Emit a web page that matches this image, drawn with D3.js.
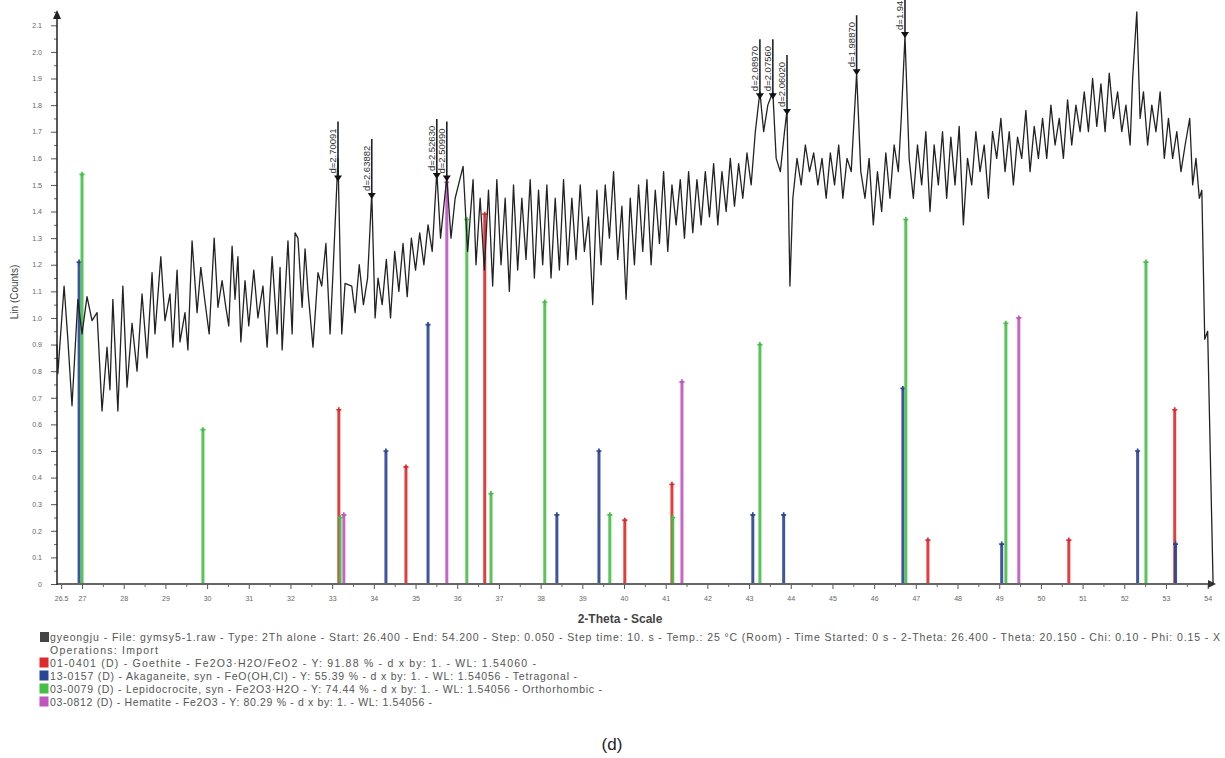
<!DOCTYPE html>
<html><head><meta charset="utf-8">
<script src="https://cdn.jsdelivr.net/npm/d3@7/dist/d3.min.js"></script>
<style>
body{margin:0;background:#fff}
svg{display:block}
text{font-family:"Liberation Sans",Arial,sans-serif}
</style>
</head><body>
<svg id="chart" width="1225" height="758"></svg>
<script>
// ---- scan: [2-Theta, Lin (Counts)] ----
const scanPoints = [
[26.40,0.90],[26.42,0.79],[26.57,1.12],[26.66,0.92],[26.76,0.67],[26.90,1.07],[27.00,0.94],[27.12,1.08],[27.24,0.99],[27.36,1.02],[27.48,0.65],[27.60,0.89],[27.67,0.73],[27.74,1.07],[27.86,0.65],[27.98,1.12],[28.08,0.74],[28.20,0.98],[28.32,0.80],[28.44,1.09],[28.56,0.85],[28.68,1.17],[28.75,0.94],[28.89,1.23],[28.99,0.99],[29.11,1.09],[29.18,0.89],[29.28,1.18],[29.35,0.91],[29.47,1.02],[29.54,0.88],[29.64,1.29],[29.76,1.02],[29.85,1.19],[29.95,1.06],[30.05,0.94],[30.17,1.30],[30.26,1.04],[30.36,1.14],[30.45,1.04],[30.52,0.97],[30.60,1.27],[30.67,1.07],[30.74,1.23],[30.81,0.91],[30.91,1.14],[31.00,0.97],[31.12,1.18],[31.22,1.00],[31.34,1.12],[31.44,0.89],[31.56,1.23],[31.68,0.94],[31.75,1.19],[31.80,0.88],[31.94,1.29],[32.04,0.94],[32.11,1.32],[32.18,1.30],[32.28,1.04],[32.35,1.26],[32.42,1.10],[32.54,0.89],[32.66,1.17],[32.75,1.12],[32.85,1.28],[32.95,0.94],[33.02,1.17],[33.14,1.60],[33.23,0.94],[33.31,1.13],[33.47,1.12],
[33.55,1.02],[33.65,1.20],[33.75,1.05],[33.85,1.15],[33.95,1.47],[34.03,1.00],[34.10,1.15],[34.20,1.05],[34.30,1.22],[34.40,1.00],[34.50,1.25],[34.60,1.10],[34.70,1.28],[34.80,1.08],[34.90,1.30],[35.00,1.18],[35.10,1.32],[35.20,1.20],[35.30,1.35],[35.40,1.25],[35.51,1.55],[35.60,1.30],[35.75,1.53],[35.85,1.30],[35.95,1.45],
[36.14,1.57],[36.25,1.25],[36.38,1.52],[36.45,1.20],[36.55,1.45],[36.65,1.18],[36.75,1.48],[36.85,1.12],[36.95,1.52],[37.05,1.20],[37.15,1.45],[37.25,1.10],[37.35,1.50],[37.45,1.18],[37.55,1.45],[37.65,1.22],[37.75,1.52],[37.85,1.15],[37.95,1.48],[38.05,1.20],[38.15,1.50],[38.25,1.15],[38.35,1.45],[38.45,1.18],[38.55,1.52],[38.65,1.20],[38.75,1.45],[38.85,1.22],[38.95,1.50],[39.05,1.25],[39.15,1.38],[39.25,1.05],[39.35,1.48],[39.45,1.20],[39.55,1.50],[39.65,1.30],[39.75,1.55],[39.85,1.22],[39.95,1.42],[40.05,1.07],[40.15,1.45],[40.25,1.20],[40.35,1.50],[40.45,1.25],[40.55,1.52],[40.65,1.20],[40.75,1.48],[40.85,1.28],[40.95,1.55],[41.05,1.25],[41.15,1.50],[41.25,1.35],[41.35,1.52],[41.45,1.30],[41.55,1.55],[41.65,1.32],[41.75,1.52],[41.85,1.35],[41.95,1.55],[42.05,1.38],[42.15,1.58],[42.25,1.35],[42.35,1.55],[42.45,1.40],[42.55,1.60],[42.65,1.42],[42.75,1.58],[42.85,1.45],[42.95,1.62],[43.05,1.50],[43.15,1.70],
[43.26,1.85],[43.35,1.70],[43.45,1.80],[43.57,1.85],[43.65,1.60],[43.75,1.55],[43.85,1.70],[43.91,1.78],[43.98,1.12],[44.05,1.45],[44.15,1.60],[44.25,1.50],[44.35,1.65],[44.45,1.55],[44.55,1.62],[44.65,1.50],[44.75,1.60],[44.85,1.45],[44.95,1.62],[45.05,1.50],[45.15,1.65],[45.25,1.45],[45.35,1.60],[45.45,1.55],[45.58,1.92],[45.68,1.55],[45.78,1.45],[45.88,1.60],[45.98,1.35],[46.08,1.55],[46.18,1.40],[46.28,1.62],[46.38,1.45],[46.48,1.65],[46.58,1.55],[46.65,1.75],[46.74,2.06],[46.84,1.60],[46.94,1.45],[47.04,1.65],[47.14,1.50],[47.24,1.70],[47.34,1.40],[47.44,1.65],[47.54,1.50],[47.64,1.70],[47.74,1.45],[47.84,1.68],[47.94,1.50],[48.04,1.72],[48.14,1.35],[48.24,1.60],[48.34,1.50],[48.44,1.70],[48.54,1.55],[48.64,1.65],[48.74,1.45],[48.84,1.70],[48.94,1.60],[49.04,1.75],[49.14,1.55],[49.24,1.70],[49.34,1.50],[49.44,1.68],[49.54,1.60],[49.64,1.78],[49.74,1.55],[49.84,1.72],[49.94,1.60],[50.04,1.75],[50.14,1.60],[50.24,1.80],[50.34,1.65],[50.44,1.75],[50.54,1.60],[50.64,1.82],[50.74,1.65],[50.84,1.80],[50.94,1.70],[51.04,1.85],[51.14,1.70],[51.24,1.90],[51.34,1.72],[51.44,1.88],[51.54,1.70],[51.64,1.92],[51.74,1.75],[51.84,1.85],[51.94,1.70],[52.04,1.80],[52.14,1.65],[52.20,1.90],[52.30,2.15],[52.38,1.75],[52.46,1.85],[52.56,1.65],[52.66,1.80],[52.76,1.70],[52.86,1.85],[52.96,1.60],[53.06,1.75],[53.16,1.60],[53.26,1.70],[53.36,1.55],[53.46,1.65],[53.57,1.75],[53.64,1.50],[53.72,1.60],[53.80,1.45],[53.86,1.48],[53.93,0.92],[54.00,0.95],[54.13,0.00]
];

// ---- reference patterns (2-Theta, relative height on the Lin scale) ----
const goethiteAngles = [33.16,34.77,36.66,40.02,41.15,47.29,50.67,53.21];
const goethiteHeights = [0.655,0.44,1.39,0.24,0.375,0.165,0.165,0.655];
const akaganeiteAngles = [26.93,34.29,35.30,38.39,39.40,43.09,43.83,46.69,49.06,52.32,53.23];
const akaganeiteHeights = [1.21,0.50,0.975,0.26,0.50,0.26,0.26,0.735,0.15,0.50,0.15];
const lepidocrociteAngles = [27.00,29.90,33.19,36.23,36.81,38.10,39.66,41.17,43.26,46.76,49.16,52.52];
const lepidocrociteHeights = [1.54,0.58,0.25,1.37,0.34,1.06,0.26,0.25,0.90,1.37,0.98,1.21];
const hematiteAngles = [33.28,35.75,41.39,49.47];
const hematiteHeights = [0.26,1.51,0.76,1.00];

// ---- peak labels ----
const peakAngles = [33.14,33.95,35.51,35.75,43.26,43.57,43.91,45.58,46.74];
const peakHeights = [1.52,1.455,1.53,1.52,1.83,1.83,1.77,1.92,2.06];
const peakLabels = ["d=2.70091","d=2.63882","d=2.52630","d=2.50990","d=2.08970","d=2.07560","d=2.06020","d=1.98870","d=1.94"];

// ---- axes ----
const xTickValues = [26.5,27,28,29,30,31,32,33,34,35,36,37,38,39,40,41,42,43,44,45,46,47,48,49,50,51,52,53,54];
const xTickLabels = ["26.5","27","28","29","30","31","32","33","34","35","36","37","38","39","40","41","42","43","44","45","46","47","48","49","50","51","52","53","54"];
const yTickValues = [0,0.1,0.2,0.3,0.4,0.5,0.6,0.7,0.8,0.9,1.0,1.1,1.2,1.3,1.4,1.5,1.6,1.7,1.8,1.9,2.0,2.1];
const yTickLabels = ["0","0.1","0.2","0.3","0.4","0.5","0.6","0.7","0.8","0.9","1.0","1.1","1.2","1.3","1.4","1.5","1.6","1.7","1.8","1.9","2.0","2.1"];

const legendHeader = "gyeongju - File: gymsy5-1.raw - Type: 2Th alone - Start: 26.400 - End: 54.200 - Step: 0.050 - Step time: 10. s - Temp.: 25 °C (Room) - Time Started: 0 s - 2-Theta: 26.400 - Theta: 20.150 - Chi: 0.10 - Phi: 0.15 - X";
const legendOps = "Operations: Import";
const phaseNames = [
  "01-0401 (D) - Goethite - Fe2O3·H2O/FeO2 - Y: 91.88 % - d x by: 1. - WL: 1.54060 -",
  "13-0157 (D) - Akaganeite, syn - FeO(OH,Cl) - Y: 55.39 % - d x by: 1. - WL: 1.54056 - Tetragonal -",
  "03-0079 (D) - Lepidocrocite, syn - Fe2O3·H2O - Y: 74.44 % - d x by: 1. - WL: 1.54056 - Orthorhombic -",
  "03-0812 (D) - Hematite - Fe2O3 - Y: 80.29 % - d x by: 1. - WL: 1.54056 -"
];
const phaseColors = ["#e02a2a","#2a4496","#45bf45","#c055c0"];

// ================= drawing =================
const svg = d3.select("#chart");
svg.append("rect").attr("width",1225).attr("height",758).attr("fill","#fff");

const x = d3.scaleLinear().domain([26.4, 54.2]).range([57, 1216]);
const y = d3.scaleLinear().domain([0, 2.15]).range([584, 12]);

// y axis
const yAxis = d3.axisLeft(y).tickValues(yTickValues).tickSize(6).tickFormat((d,i)=>yTickLabels[i]);
const gy = svg.append("g").attr("transform","translate(57,0)").call(yAxis);
gy.select(".domain").remove();
gy.selectAll("line").attr("stroke","#555");
gy.selectAll("text").attr("font-size",7).attr("fill","#666").attr("dx",-6);
const yMinor = d3.axisLeft(y).tickValues(yTickValues.map(v=>v+0.05)).tickSize(3).tickFormat("");
const gy2 = svg.append("g").attr("transform","translate(57,0)").call(yMinor);
gy2.select(".domain").remove();
gy2.selectAll("line").attr("stroke","#666");

// x axis
const xAxis = d3.axisBottom(x).tickValues(xTickValues).tickSize(5).tickFormat((d,i)=>xTickLabels[i]);
const gx = svg.append("g").attr("transform","translate(0,584)").call(xAxis);
gx.select(".domain").remove();
gx.selectAll("line").attr("stroke","#555");
gx.selectAll("text").attr("font-size",7).attr("fill","#666").attr("dy",9);
const xMinor = d3.axisBottom(x).tickValues(xTickValues.slice(1,-1).map(v=>v+0.5)).tickSize(3).tickFormat("");
const gx2 = svg.append("g").attr("transform","translate(0,584)").call(xMinor);
gx2.select(".domain").remove();
gx2.selectAll("line").attr("stroke","#666");

// reference sticks
const phases = [
  {a:goethiteAngles,h:goethiteHeights},
  {a:akaganeiteAngles,h:akaganeiteHeights},
  {a:lepidocrociteAngles,h:lepidocrociteHeights},
  {a:hematiteAngles,h:hematiteHeights}
];
const stickG = svg.append("g");
phases.forEach((p,pi)=>{
  const data = p.a.map((a,i)=>({a, h:p.h[i]}));
  stickG.selectAll(null).data(data).enter().append("line")
    .attr("x1",d=>x(d.a)).attr("x2",d=>x(d.a))
    .attr("y1",y(0)).attr("y2",d=>y(d.h))
    .attr("stroke",phaseColors[pi]).attr("stroke-width",3).attr("opacity",0.9);
  stickG.selectAll(null).data(data).enter().append("path")
    .attr("d",d3.symbol(d3.symbolCross,14)())
    .attr("transform",d=>`translate(${x(d.a)},${y(d.h)})`)
    .attr("fill",phaseColors[pi]);
});

// axis lines
svg.append("line").attr("x1",57).attr("x2",1214).attr("y1",584).attr("y2",584).attr("stroke","#666").attr("stroke-width",2);
svg.append("path").attr("d","M1216,584 L1208,580 L1208,588 Z").attr("fill","#333");
svg.append("line").attr("x1",57).attr("x2",57).attr("y1",585).attr("y2",14).attr("stroke","#222").attr("stroke-width",1.5);
svg.append("path").attr("d","M57,10 L53,19 L61,19 Z").attr("fill","#222");

// scan line
svg.append("path").datum(scanPoints)
  .attr("d", d3.line().x(d=>x(d[0])).y(d=>y(d[1])))
  .attr("fill","none").attr("stroke","#222").attr("stroke-width",1.3).attr("stroke-linejoin","round");

// peak annotations
const pk = peakAngles.map((a,i)=>({a, v:peakHeights[i], t:peakLabels[i]}));
const pg = svg.append("g");
pg.selectAll(null).data(pk).enter().append("line")
  .attr("x1",d=>x(d.a)).attr("x2",d=>x(d.a))
  .attr("y1",d=>y(d.v)).attr("y2",d=>y(d.v)-58)
  .attr("stroke","#222").attr("stroke-width",1.6);
pg.selectAll(null).data(pk).enter().append("path")
  .attr("d",d=>{const cx=x(d.a), cy=y(d.v); return `M${cx-4},${cy-4} L${cx+4},${cy-4} L${cx},${cy+2} Z`;})
  .attr("fill","#111");
pg.selectAll(null).data(pk).enter().append("text")
  .attr("transform",d=>`translate(${x(d.a)-2},${y(d.v)-6}) rotate(-90)`)
  .attr("font-size",9.5).attr("fill","#333").text(d=>d.t);

// axis titles
svg.append("text").attr("x",620).attr("y",623).attr("text-anchor","middle")
  .attr("font-size",12).attr("font-weight","bold").attr("fill","#444").text("2-Theta - Scale");
svg.append("text").attr("transform","translate(18,292) rotate(-90)").attr("text-anchor","middle")
  .attr("font-size",10).attr("fill","#444").text("Lin (Counts)");

// legend
const lg = svg.append("g");
lg.append("rect").attr("x",40).attr("y",632).attr("width",9).attr("height",10).attr("fill","#444");
lg.append("text").attr("x",50).attr("y",641).attr("font-size",10.5).attr("fill","#555")
  .attr("textLength",1170).attr("lengthAdjust","spacing").text(legendHeader);
lg.append("text").attr("x",50).attr("y",654).attr("font-size",10.5).attr("fill","#555")
  .attr("textLength",108).attr("lengthAdjust","spacing").text(legendOps);
const rowsY = [667,680,693,706];
const rowsLen = [486,527,552,382];
phaseNames.forEach((t,i)=>{
  lg.append("rect").attr("x",40).attr("y",rowsY[i]-9).attr("width",8).attr("height",9)
    .attr("fill",phaseColors[i]).attr("stroke",phaseColors[i]);
  lg.append("text").attr("x",50).attr("y",rowsY[i]).attr("font-size",10.5).attr("fill","#555")
    .attr("textLength",rowsLen[i]).attr("lengthAdjust","spacing").text(t);
});

svg.append("text").attr("x",612).attr("y",750).attr("text-anchor","middle")
  .attr("font-size",17).attr("fill","#222").text("(d)");
</script>
</body></html>
